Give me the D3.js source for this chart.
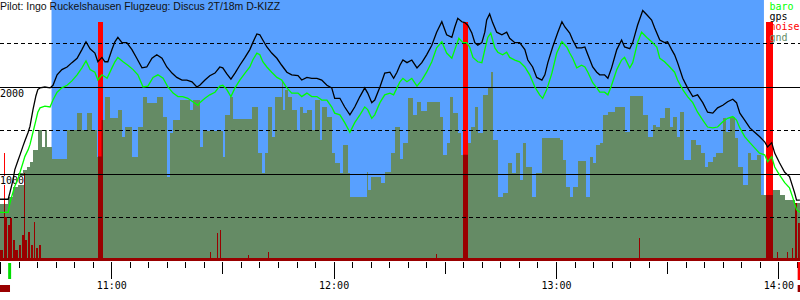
<!DOCTYPE html>
<html lang="de">
<head>
<meta charset="UTF-8">
<title>Barogramm D-KIZZ</title>
<style>
* { margin: 0; padding: 0; }
body { background: #fff; width: 800px; height: 300px; overflow: hidden; }
svg { display: block; }
text.mono { font-family: "DejaVu Sans Mono", monospace; font-size: 10px; }
text.title { font-family: "Liberation Sans", Arial, sans-serif; font-size: 10.5px; fill: #111; }
</style>
</head>
<body>
<div id="chart"></div>
<script src="https://cdn.jsdelivr.net/npm/d3@7/dist/d3.min.js"></script>
<script>
// All times are minutes after 10:30, altitudes in metres.
var titleText = "Pilot: Ingo Ruckelshausen Flugzeug: Discus 2T/18m D-KIZZ";
var legendNames = ["baro", "gps", "noise", "gnd"];
var gridLevels = [500, 1000, 1500, 2000, 2500];
var altLabels = [1000, 2000];

// Time window shown with blue background
var skyWindow = [13.9, 206.1];
var takeoffMark = [2.2, 3.0];
var landingMark = [215.2, 216];
var engineMarks = [[0, 2.7], [215.2, 216]];

var gps = [
	[0,710],[2.2,710],[2.7,790],[3.5,930],[4.0,1050],[4.9,1160],[5.4,1220],[6.2,1320],[6.7,1380],[7.6,1480],[8.1,1550],[8.9,1740],[9.7,1900],[10.2,1970],[10.8,1990],[12.1,2000],[13.5,1990],[14.3,2020],[15.4,2140],[16.7,2200],[18.1,2230],[19.4,2280],[20.8,2330],[22.1,2430],[23.2,2520],[24.3,2440],[25.6,2390],[26.4,2290],[27.5,2340],[28.3,2290],[29.1,2290],[30.2,2430],[31.0,2520],[31.8,2570],[32.9,2510],[34.2,2510],[35.6,2430],[36.9,2330],[38.3,2220],[39.6,2230],[41.0,2330],[42.3,2370],[43.7,2330],[45.0,2230],[46.4,2160],[47.7,2110],[49.1,2080],[50.4,2080],[51.8,2060],[53.1,2000],[53.9,2020],
	[55.3,2080],[56.6,2130],[58.0,2160],[59.3,2230],[60.1,2220],[61.2,2150],[62.3,2090],[63.4,2160],[64.7,2250],[66.1,2340],[67.4,2430],[68.2,2510],[69.3,2610],[70.1,2600],[70.9,2540],[72.0,2460],[73.3,2390],[74.7,2330],[76.0,2250],[77.4,2170],[78.7,2140],[80.4,2130],[81.4,2080],[82.8,2110],[84.1,2100],[85.5,2100],[86.8,2080],[88.2,2020],[89.5,1990],[90.3,1870],[91.7,1870],[93.0,1770],[94.4,1680],[95.7,1770],[97.1,1890],[98.4,1990],[99.2,1930],[100.3,1820],[101.1,1850],[102.5,2000],[103.8,2160],[105.2,2170],[106.2,2100],[107.1,2170],[107.9,2250],
	[108.7,2310],[109.8,2280],[111.1,2310],[112.5,2220],[113.8,2280],[115.1,2370],[116.5,2480],[117.8,2630],[119.2,2750],[120.5,2600],[121.9,2570],[122.7,2690],[123.5,2790],[124.6,2750],[125.4,2740],[126.2,2710],[127.3,2620],[128.1,2510],[128.9,2480],[130.0,2510],[130.8,2630],[131.3,2770],[132.1,2840],[132.9,2740],[134.0,2630],[135.4,2600],[136.7,2630],[137.5,2560],[138.9,2510],[140.2,2510],[141.6,2430],[142.4,2310],[143.7,2230],[144.8,2110],[146.2,2080],[147.0,2140],[147.8,2280],[149.1,2460],[150.5,2630],[151.6,2750],[152.4,2690],[153.7,2620],[154.5,2540],[155.6,2450],[156.9,2450],[157.8,2460],[158.6,2370],[159.9,2230],[161.0,2170],[161.8,2140],
	[163.1,2140],[164.0,2100],[165.0,2220],[166.4,2430],[167.7,2540],[168.5,2460],[169.9,2440],[170.7,2510],[172.0,2710],[173.4,2880],[174.5,2830],[175.8,2770],[176.6,2680],[178.0,2540],[179.3,2510],[180.1,2520],[181.2,2430],[182.0,2370],[182.8,2280],[184.2,2100],[185.5,1990],[186.9,1890],[188.2,1910],[189.6,1820],[190.9,1710],[192.3,1700],[193.6,1760],[195.0,1790],[196.3,1830],[197.7,1860],[198.7,1820],[199.6,1700],[200.9,1620],[202.3,1530],[203.6,1480],[204.9,1430],[206.3,1370],[207.1,1310],[208.2,1360],[209.0,1240],[210.3,1130],[211.7,1020],[213.0,970],[214.4,780],[214.9,700],[215.8,700]
];

var baro = [
	[0,560],[2.2,560],[2.7,670],[3.5,790],[4.0,860],[4.9,950],[5.4,1020],[6.2,1130],[6.7,1200],[7.6,1280],[8.1,1340],[8.9,1480],[9.7,1620],[10.2,1710],[10.8,1760],[12.1,1780],[13.5,1770],[14.3,1850],[15.4,1940],[16.7,1990],[18.1,2020],[19.4,2070],[20.8,2140],[22.1,2220],[23.2,2300],[24.3,2200],[25.6,2170],[26.4,2080],[27.5,2140],[28.9,2100],[30.2,2220],[31.0,2290],[31.8,2340],[33.2,2290],[34.5,2250],[35.9,2200],[37.2,2140],[38.6,2000],[39.9,2010],[41.3,2110],[42.6,2140],[44.0,2100],[45.3,2000],[46.7,1930],[48.0,1890],[49.3,1890],[50.7,1870],[52.0,1830],[53.4,1790],
	[53.9,1820],[55.3,1870],[56.6,1910],[58.0,1940],[59.3,2010],[60.1,2020],[61.2,1970],[62.3,1890],[63.4,1990],[64.7,2080],[66.1,2160],[67.4,2230],[68.2,2310],[69.3,2390],[70.1,2370],[70.9,2290],[72.0,2230],[73.3,2170],[74.7,2110],[76.0,2080],[77.4,1990],[78.7,1930],[80.4,1930],[81.4,1890],[82.8,1930],[84.1,1890],[85.5,1890],[86.8,1850],[88.2,1850],[89.5,1770],[90.3,1700],[91.7,1680],[93.0,1590],[94.4,1480],[95.7,1590],[97.1,1680],[98.4,1770],[99.2,1740],[100.3,1640],[101.1,1680],[102.5,1820],[103.8,1910],[105.2,1930],[106.2,1910],[107.1,1990],[107.9,2060],
	[108.7,2100],[109.8,2060],[111.1,2100],[112.5,2010],[113.8,2080],[115.1,2170],[116.5,2290],[117.8,2450],[119.2,2520],[120.5,2390],[121.9,2330],[122.7,2430],[123.8,2560],[124.9,2510],[125.9,2510],[126.7,2460],[127.6,2340],[128.9,2290],[130.0,2280],[130.8,2430],[131.6,2570],[132.4,2620],[133.5,2450],[134.3,2400],[135.6,2370],[136.7,2400],[137.5,2340],[138.9,2310],[140.2,2290],[141.6,2230],[142.9,2140],[144.3,2000],[145.6,1910],[146.4,1870],[147.5,1970],[148.9,2160],[150.2,2390],[151.6,2520],[152.9,2460],[153.7,2390],[154.5,2330],[155.6,2220],[156.9,2250],[157.8,2230],[158.6,2170],[159.9,2050],[161.0,1990],[161.8,1940],
	[163.1,1940],[164.0,1910],[165.0,2020],[166.4,2200],[167.7,2310],[168.5,2340],[169.9,2220],[170.7,2280],[172.0,2510],[173.1,2630],[174.5,2570],[175.8,2520],[177.2,2460],[178.0,2330],[179.3,2290],[180.7,2230],[182.0,2170],[182.8,2080],[184.2,1970],[185.5,1890],[186.9,1820],[188.2,1710],[189.6,1620],[190.9,1540],[192.3,1530],[193.6,1540],[195.0,1600],[196.3,1640],[197.7,1660],[198.7,1620],[199.6,1530],[200.9,1430],[202.3,1360],[203.6,1300],[204.9,1240],[206.3,1220],[207.1,1140],[208.2,1200],[209.0,1080],[210.3,990],[211.7,900],[213.0,840],[213.8,740],[214.9,590],[215.8,560]
];

// terrain elevation below the track (step values)
var gnd = [
	[0,660],[2.2,740],[3.6,850],[4.9,1010],[6.3,1050],[7.2,1080],[8.1,1140],[9.0,1280],[10.3,1510],[11.2,1310],[12.1,1510],[12.6,1310],[13.9,1170],[18.0,1510],[20.7,1700],[22.0,1510],[23.4,1700],[24.7,1510],[26.1,1200],[27.4,1620],[28.3,1890],[29.7,1640],[31.9,1740],[32.8,1430],[33.7,1540],[35.5,1200],[37.3,1540],[38.6,1890],[39.6,1820],[42.3,1890],[44.0,1660],[45.0,970],[45.8,1470],[46.7,1620],[48.5,1850],[51.2,1740],[52.1,1850],
	[53.9,1310],[54.8,1490],[60.2,1200],[60.7,1680],[62.0,1890],[62.9,1630],[67.9,1770],[69.7,1240],[70.6,1010],[71.5,1240],[72.4,1770],[73.3,1430],[74.2,1890],[76.0,2060],[76.4,1740],[76.9,1970],[77.8,1890],[78.7,1740],[80.0,1510],[80.9,1770],[81.8,1700],[82.7,1740],[84.1,1510],[84.9,1850],[86.3,1390],[86.8,1770],[88.1,1660],[89.5,1240],[90.3,1130],[91.7,1010],[92.6,1330],[93.9,1010],[94.4,740],[98.9,1020],[99.3,820],[100.2,970],[102.9,900],[103.8,1020],[105.6,1240],[106.5,1540],
	[107.9,1170],[108.8,1360],[110.1,1870],[111.5,1680],[112.4,1830],[113.7,1720],[115.1,1830],[118.7,1660],[119.5,1220],[120.5,1360],[121.4,1890],[122.2,1700],[123.6,1470],[124.5,1220],[126.3,1360],[127.2,1540],[128.1,1770],[129.0,1470],[130.3,1910],[131.7,2000],[132.6,2170],[133.0,1390],[134.4,740],[135.7,780],[137.1,1130],[138.0,1010],[139.3,1240],[140.2,930],[141.1,1360],[142.0,1080],[143.4,740],[144.7,1010],[146.1,1410],[151.0,1390],[151.9,1160],[152.8,850],[153.7,740],[154.6,850],[156.0,1150],[158.2,740],[159.1,1200],[160.0,1130],[160.9,1330],
	[161.8,1360],[162.7,1680],[164.0,1710],[165.8,1770],[168.5,1480],[169.9,1900],[173.5,1680],[174.8,1430],[176.2,1560],[177.1,1540],[178.0,1640],[179.3,1760],[180.7,1540],[181.6,1660],[182.6,1430],[183.4,1710],[184.5,1160],[186.5,1390],[187.9,1330],[189.2,1240],[190.1,1080],[191.0,1140],[192.4,1200],[193.3,1240],[195.1,1640],[196.0,1480],[196.9,1660],[198.2,1410],[199.1,1080],[200.4,870],[201.8,1240],[202.7,1160],[204.1,1220],[205.4,760],[208.5,820],[210.3,760],[211.7,700],[214.4,670],[215.8,670]
];

// engine noise level 0..1000: [from, to, level]
var noise = [
	[0,215.8,12],
	[0,0.8,46],[0.95,1.2,452],[1.35,1.9,184],[2.15,2.7,150],[2.7,3.25,180],[3.5,4.05,88],[4.05,4.85,46],[5.1,5.65,67],[5.95,6.35,109],[6.35,6.6,368],[6.75,7.3,88],[7.55,8.1,121],[8.35,8.9,67],[9.15,9.45,163],[9.7,10.25,54],[10.5,11.05,67],
	[26.35,27.7,1000],[56.6,56.9,38],[58.65,58.9,117],[59.3,59.6,130],[66.9,67.2,25],[72.3,72.5,38],[117.6,117.8,29],
	[124.8,126.3,1000],[172.4,172.65,96],[206.75,208.5,1000],[209.5,209.8,38],[212.2,212.5,38],[213.6,213.8,54],[214.6,215.0,243],[215.2,215.8,160]
];

var T0 = new Date(2024, 6, 1, 10, 30);
function t(m) { return new Date(T0.getTime() + m * 60000); }

var width = 800, height = 300, base = 261;
var colors = { baro: "#00ff00", gps: "#000000", noise: "#ff0000", gnd: "#658b65" };

var svg = d3.select("#chart").append("svg")
	.attr("width", width)
	.attr("height", height);

var x = d3.scaleTime().domain([t(0), t(215.83)]).range([0, width]);
var y = d3.scaleLinear().domain([0, 3000]).range([base, 0]);
var yNoise = d3.scaleLinear().domain([0, 1000]).range([base, 22]);

function xm(m) { return x(t(m)); }

// blue sky window
svg.append("rect")
	.attr("x", xm(skyWindow[0]))
	.attr("y", 0)
	.attr("width", xm(skyWindow[1]) - xm(skyWindow[0]))
	.attr("height", base)
	.attr("fill", "#58a0ff");

function noiseBars(sel, fill) {
	sel.selectAll("rect").data(noise).join("rect")
		.attr("x", function(d) { return xm(d[0]); })
		.attr("width", function(d) { return Math.max(1, xm(d[1]) - xm(d[0])); })
		.attr("y", function(d) { return yNoise(d[2]); })
		.attr("height", function(d) { return base - yNoise(d[2]); })
		.attr("fill", fill)
		.attr("shape-rendering", "crispEdges");
}

// noise above terrain is bright red
noiseBars(svg.append("g"), colors.noise);

var gndArea = d3.area()
	.curve(d3.curveStepAfter)
	.x(function(d) { return xm(d[0]); })
	.y0(base)
	.y1(function(d) { return y(d[1]); });

svg.append("path").datum(gnd)
	.attr("d", gndArea)
	.attr("fill", colors.gnd)
	.attr("shape-rendering", "crispEdges");

// noise inside terrain is dark red
svg.append("clipPath").attr("id", "gnd-clip")
	.append("path").datum(gnd).attr("d", gndArea);
noiseBars(svg.append("g").attr("clip-path", "url(#gnd-clip)"), "#990000");

// grid lines
svg.append("g").selectAll("line").data(gridLevels).join("line")
	.attr("x1", 0).attr("x2", width)
	.attr("y1", function(d) { return Math.floor(y(d)) + 0.5; })
	.attr("y2", function(d) { return Math.floor(y(d)) + 0.5; })
	.attr("stroke", "#000")
	.attr("stroke-width", 1)
	.attr("stroke-dasharray", function(d) { return d % 1000 === 0 ? null : "4,3"; });

// altitude labels with white backing
var lab = svg.append("g").selectAll("g").data(altLabels).join("g")
	.attr("transform", function(d) { return "translate(0," + (Math.floor(y(d)) + 10) + ")"; });
lab.append("rect").attr("x", 0).attr("y", -8).attr("width", 24).attr("height", 9).attr("fill", "#fff");
lab.append("text").attr("class", "mono").attr("x", 0).attr("y", 0).text(function(d) { return d; });

var line = d3.line()
	.x(function(d) { return xm(d[0]); })
	.y(function(d) { return y(d[1]); });

svg.append("path").datum(baro)
	.attr("d", line)
	.attr("fill", "none")
	.attr("stroke", colors.baro)
	.attr("stroke-width", 1.3);

svg.append("path").datum(gps)
	.attr("d", line)
	.attr("fill", "none")
	.attr("stroke", colors.gps)
	.attr("stroke-width", 1.3);

// time axis: 5 min, 30 min and hour ticks
function timeAxis(every, size, labels) {
	var ax = d3.axisBottom(x)
		.ticks(d3.timeMinute.every(every))
		.tickSize(size)
		.tickFormat(labels ? d3.timeFormat("%H:%M") : "");
	var g = svg.append("g")
		.attr("transform", "translate(0," + (base + 1) + ")")
		.call(ax);
	g.select(".domain").remove();
	g.selectAll("line").attr("stroke", "#000").attr("shape-rendering", "crispEdges");
	g.selectAll("text").attr("class", "mono").attr("font-family", null).attr("font-size", null).attr("fill", "#000");
	return g;
}
timeAxis(5, 6, false);
timeAxis(30, 12, false);
timeAxis(60, 17, true);

// takeoff / landing / engine marks under the axis
svg.append("rect")
	.attr("x", xm(takeoffMark[0])).attr("y", base + 2)
	.attr("width", xm(takeoffMark[1]) - xm(takeoffMark[0])).attr("height", 16)
	.attr("fill", "#00dd00");
svg.append("rect")
	.attr("x", xm(landingMark[0])).attr("y", base + 1)
	.attr("width", xm(landingMark[1]) - xm(landingMark[0])).attr("height", 18)
	.attr("fill", "#ff0000");
svg.append("g").selectAll("rect").data(engineMarks).join("rect")
	.attr("x", function(d) { return xm(d[0]); })
	.attr("y", 285)
	.attr("width", function(d) { return xm(d[1]) - xm(d[0]); })
	.attr("height", 7)
	.attr("fill", "#990000");

// legend
svg.append("g").selectAll("text").data(legendNames).join("text")
	.attr("class", "mono")
	.attr("x", 769.5)
	.attr("y", function(d, i) { return 10 + i * 10.2; })
	.attr("fill", function(d) { return colors[d]; })
	.text(function(d) { return d; });

svg.append("text")
	.attr("class", "title")
	.attr("x", 0)
	.attr("y", 9.5)
	.text(titleText);
</script>
</body>
</html>
